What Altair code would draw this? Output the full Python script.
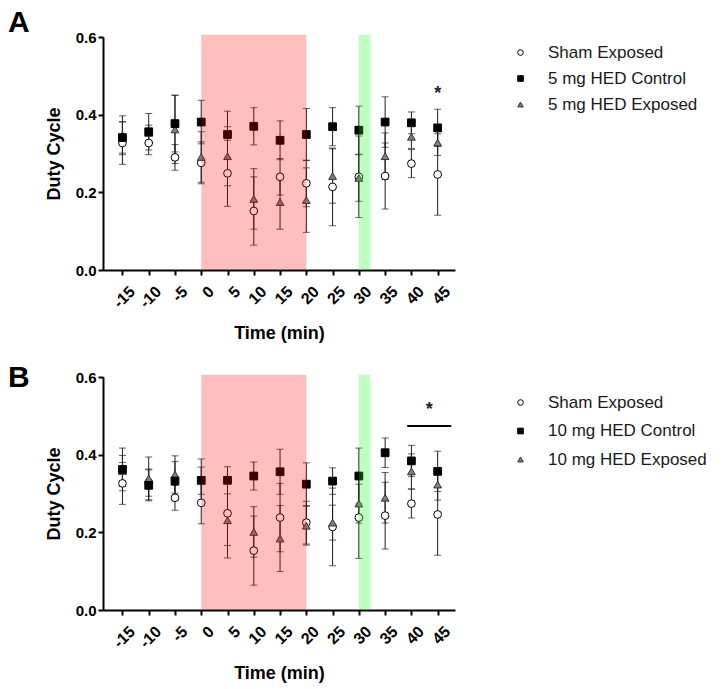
import altair as alt
import pandas as pd

times = [-15, -10, -5, 0, 5, 10, 15, 20, 25, 30, 35, 40, 45]

# Panel A (5 mg)
labels_A = ["Sham Exposed", "5 mg HED Control", "5 mg HED Exposed"]
sham_A = [0.327, 0.327, 0.290, 0.276, 0.249, 0.152, 0.240, 0.223, 0.214, 0.240, 0.242, 0.274, 0.246]
sham_A_err = [0.055, 0.030, 0.033, 0.054, 0.085, 0.088, 0.047, 0.060, 0.100, 0.105, 0.085, 0.036, 0.105]
ctrl_A = [0.341, 0.356, 0.377, 0.381, 0.349, 0.370, 0.334, 0.349, 0.369, 0.360, 0.381, 0.379, 0.366]
ctrl_A_err = [0.040, 0.047, 0.073, 0.056, 0.060, 0.048, 0.050, 0.067, 0.049, 0.062, 0.065, 0.028, 0.048]
exp_A = [0.347, 0.353, 0.362, 0.291, 0.293, 0.183, 0.175, 0.180, 0.242, 0.237, 0.293, 0.343, 0.328]
exp_A_err = [0.050, 0.020, 0.088, 0.065, 0.076, 0.078, 0.070, 0.083, 0.070, 0.060, 0.060, 0.030, 0.033]

# Panel B (10 mg)
labels_B = ["Sham Exposed", "10 mg HED Control", "10 mg HED Exposed"]
sham_B = [0.326, 0.328, 0.289, 0.276, 0.249, 0.153, 0.238, 0.225, 0.214, 0.238, 0.243, 0.274, 0.246]
sham_B_err = [0.054, 0.035, 0.032, 0.054, 0.083, 0.089, 0.088, 0.055, 0.100, 0.105, 0.086, 0.037, 0.105]
ctrl_B = [0.362, 0.321, 0.332, 0.334, 0.334, 0.345, 0.356, 0.324, 0.332, 0.345, 0.405, 0.384, 0.357]
ctrl_B_err = [0.055, 0.040, 0.050, 0.055, 0.035, 0.036, 0.058, 0.055, 0.034, 0.072, 0.038, 0.040, 0.052]
exp_B = [0.358, 0.339, 0.349, 0.333, 0.231, 0.201, 0.184, 0.217, 0.225, 0.274, 0.289, 0.357, 0.323]
exp_B_err = [0.040, 0.055, 0.048, 0.035, 0.097, 0.065, 0.085, 0.050, 0.045, 0.050, 0.065, 0.045, 0.040]

# shaded periods
shade_start = [0, 30]
shade_end = [20, 32.2]
shade_top = [0.606, 0.606]
shade_color = ["#ff0000", "#00ff00"]

# significance annotations
star_A_x = [45]
star_A_y = [0.452]
star_B_x = [43.4]
star_B_y = [0.515]
bar_B_x1 = [39.2]
bar_B_x2 = [47.6]
bar_B_y = [0.474]

X_DOMAIN = [-18.7, 48.3]


def xenc(field):
    return alt.X(
        f"{field}:Q",
        scale=alt.Scale(domain=X_DOMAIN, nice=False, zero=False),
        axis=alt.Axis(values=times, title="Time (min)", labelAngle=-45,
                      labelAlign="right", labelBaseline="top", labelOverlap=False,
                      labelExpr="toString(datum.value)", labelFontSize=16,
                      labelPadding=8, labelOffset=4, titlePadding=14, grid=False),
    )


def yenc(field):
    return alt.Y(
        f"{field}:Q",
        scale=alt.Scale(domain=[0, 0.6], nice=False),
        axis=alt.Axis(values=[0, 0.2, 0.4, 0.6], format=".1f", title="Duty Cycle",
                      titlePadding=12, labelPadding=2, grid=False),
    )


def panel(letter, letter_y, letter_baseline, labels, sham, sham_err, ctrl, ctrl_err, exp, exp_err,
          legend_y, row_pad, star_x, star_y, bar=None):
    rows = []
    order = [(labels[0], sham, sham_err), (labels[2], exp, exp_err), (labels[1], ctrl, ctrl_err)]
    for lab, vals, errs in order:
        for t, v, e in zip(times, vals, errs):
            rows.append({"time": t, "value": v, "lo": v - e, "hi": v + e, "group": lab})
    df = pd.DataFrame(rows)
    base = alt.Chart(df)

    rules = base.mark_rule(color="#1e1e1e", strokeWidth=1).encode(
        x=xenc("time"), y=yenc("lo"), y2="hi:Q")
    cap_lo = base.mark_tick(orient="horizontal", size=7, thickness=1, color="#1e1e1e").encode(
        x=xenc("time"), y=yenc("lo"))
    cap_hi = base.mark_tick(orient="horizontal", size=7, thickness=1, color="#1e1e1e").encode(
        x=xenc("time"), y=yenc("hi"))

    leg = alt.Legend(title=None, orient="none", legendX=409, legendY=legend_y,
                     labelFont="Liberation Sans", labelFontSize=17, labelColor="#1a1a1a",
                     symbolSize=32, symbolStrokeWidth=1,
                     labelOffset=19, rowPadding=row_pad, padding=0)
    pts = base.mark_point(filled=True, size=60, strokeWidth=1, opacity=1).encode(
        x=xenc("time"), y=yenc("value"),
        shape=alt.Shape("group:N", scale=alt.Scale(domain=labels,
                        range=["circle", "square", "triangle-up"]), legend=leg),
        fill=alt.Fill("group:N", scale=alt.Scale(domain=labels,
                      range=["white", "black", "#7f7f7f"]), legend=leg),
        stroke=alt.Stroke("group:N", scale=alt.Scale(domain=labels,
                          range=["black", "black", "#333333"]), legend=leg),
    )

    shade_df = pd.DataFrame({"start": shade_start, "end": shade_end, "bottom": [0, 0],
                             "top": shade_top, "color": shade_color})
    shades = alt.Chart(shade_df).mark_rect(opacity=0.25).encode(
        x=xenc("start"), x2="end:Q", y=yenc("bottom"), y2="top:Q",
        fill=alt.Fill("color:N", scale=None))

    star_df = pd.DataFrame({"x": star_x, "y": star_y})
    star = alt.Chart(star_df).mark_text(text="*", fontSize=18, fontWeight="bold",
                                        font="Liberation Sans", color="#222").encode(
        x=xenc("x"), y=yenc("y"))

    letter_mark = alt.Chart(pd.DataFrame({"l": [letter]})).mark_text(
        fontSize=30, fontWeight="bold", font="Liberation Sans", align="left",
        baseline=letter_baseline, color="black").encode(
        text="l:N", x=alt.value(-95), y=alt.value(letter_y))

    layers = [rules, cap_lo, cap_hi, pts, shades, star, letter_mark]
    if bar is not None:
        bar_df = pd.DataFrame({"x1": bar[0], "x2": bar[1], "y": bar[2]})
        layers.append(alt.Chart(bar_df).mark_rule(strokeWidth=2, color="black").encode(
            x=xenc("x1"), x2="x2:Q", y=yenc("y")))
    return alt.layer(*layers).properties(width=352, height=233)


pA = panel("A", -29, "top", labels_A, sham_A, sham_A_err, ctrl_A, ctrl_A_err, exp_A, exp_A_err,
           7, 8, star_A_x, star_A_y)
pB = panel("B", 10, "alphabetic", labels_B, sham_B, sham_B_err, ctrl_B, ctrl_B_err, exp_B, exp_B_err,
           17, 10.5, star_B_x, star_B_y, bar=(bar_B_x1, bar_B_x2, bar_B_y))

chart = alt.vconcat(pA, pB, spacing=20).resolve_scale(
    shape="independent", fill="independent", stroke="independent"
).properties(padding=0).configure_view(stroke=None).configure_axis(
    domainColor="black", domainWidth=2, tickColor="black", tickWidth=2, tickSize=5,
    labelFont="Liberation Sans", labelFontWeight="bold", labelFontSize=15, labelColor="black",
    titleFont="Liberation Sans", titleFontWeight="bold", titleFontSize=18, titleColor="black",
)

chart.save("out.html", embed_options={"renderer": "svg", "actions": False})
